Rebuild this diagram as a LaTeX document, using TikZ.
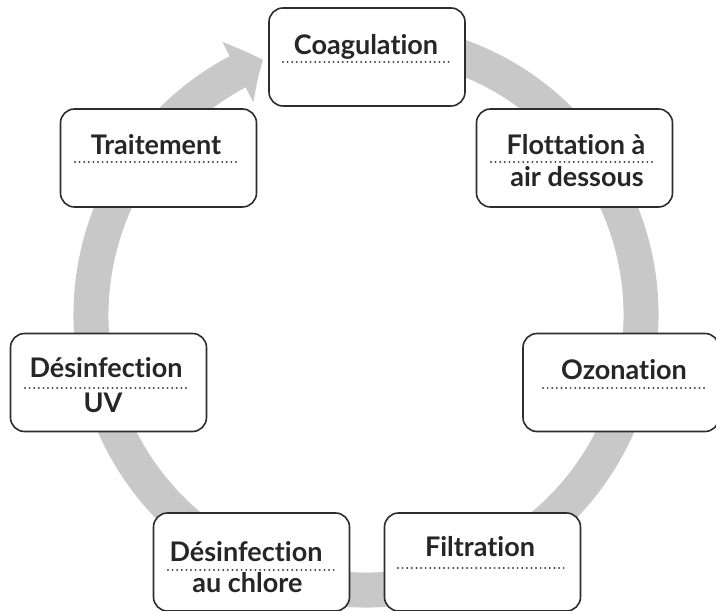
\documentclass[tikz,border=0pt]{standalone}
\usepackage{fontspec}
\setmainfont[Ligatures=NoCommon]{Lato}
\usetikzlibrary{arrows.meta,bending}
\definecolor{ringgray}{RGB}{200,200,200}
\definecolor{boxline}{RGB}{45,45,45}
\definecolor{txt}{RGB}{38,38,38}
\definecolor{dotc}{RGB}{70,70,70}
\begin{document}
\begin{tikzpicture}[x=1pt,y=1pt,
  stepbox/.style={draw=boxline,line width=1.6pt,fill=white,rounded corners=14pt,minimum width=196pt,minimum height=98pt,inner sep=0pt},
  lbl/.style={anchor=base,inner sep=0pt,text=txt,font=\fontsize{27}{32}\selectfont\bfseries},
  dotline/.style={dotc,line width=2.2pt,line cap=round,dash pattern=on 0pt off 4.6pt}]
\useasboundingbox (0,0) rectangle (716,611);
% ring with arrow
\draw[ringgray,line width=35pt,-{Triangle[length=28pt,width=66pt,bend]}]
  (366,296) ++(80:275) arc[start angle=80,end angle=-248,radius=275];
% boxes
\node[stepbox] (coag)   at (367,554) {};
\node[stepbox] (flot)   at (574.5,453) {};
\node[stepbox] (ozon)   at (621,228.5) {};
\node[stepbox] (filt)   at (482.5,49) {};
\node[stepbox] (chl)    at (251.5,49) {};
\node[stepbox] (uv)     at (108.5,228.5) {};
\node[stepbox] (trait)  at (158.5,453) {};
% texts
\node[lbl] (tcoag)  at (366,556) {Coagulation};
\node[lbl] (tflot1) at (576,456) {Flottation à};
\node[lbl] (tflot2) at (577,424) {air dessous};
\node[lbl] (tozon)  at (624,231) {Ozonation};
\node[lbl] (tfilt)  at (480,54)  {Filtration};
\node[lbl] (tchl1)  at (246,49)  {Désinfection};
\node[lbl] (tchl2)  at (247.5,18) {au chlore};
\node[lbl] (tuv1)   at (106,233) {Désinfection};
\node[lbl] (tuv2)   at (103,198) {UV};
\node[lbl] (ttrait) at (156,456) {Traitement};
% dotted rules
\draw[dotline] (283,549) -- (450,549);
\draw[dotline] (491,449) -- (655,449);
\draw[dotline] (543,223) -- (708,223);
\draw[dotline] (398,43) -- (565,43);
\draw[dotline] (168,41) -- (335,41);
\draw[dotline] (25,223) -- (188,223);
\draw[dotline] (75,449) -- (240,449);
\end{tikzpicture}
\end{document}
